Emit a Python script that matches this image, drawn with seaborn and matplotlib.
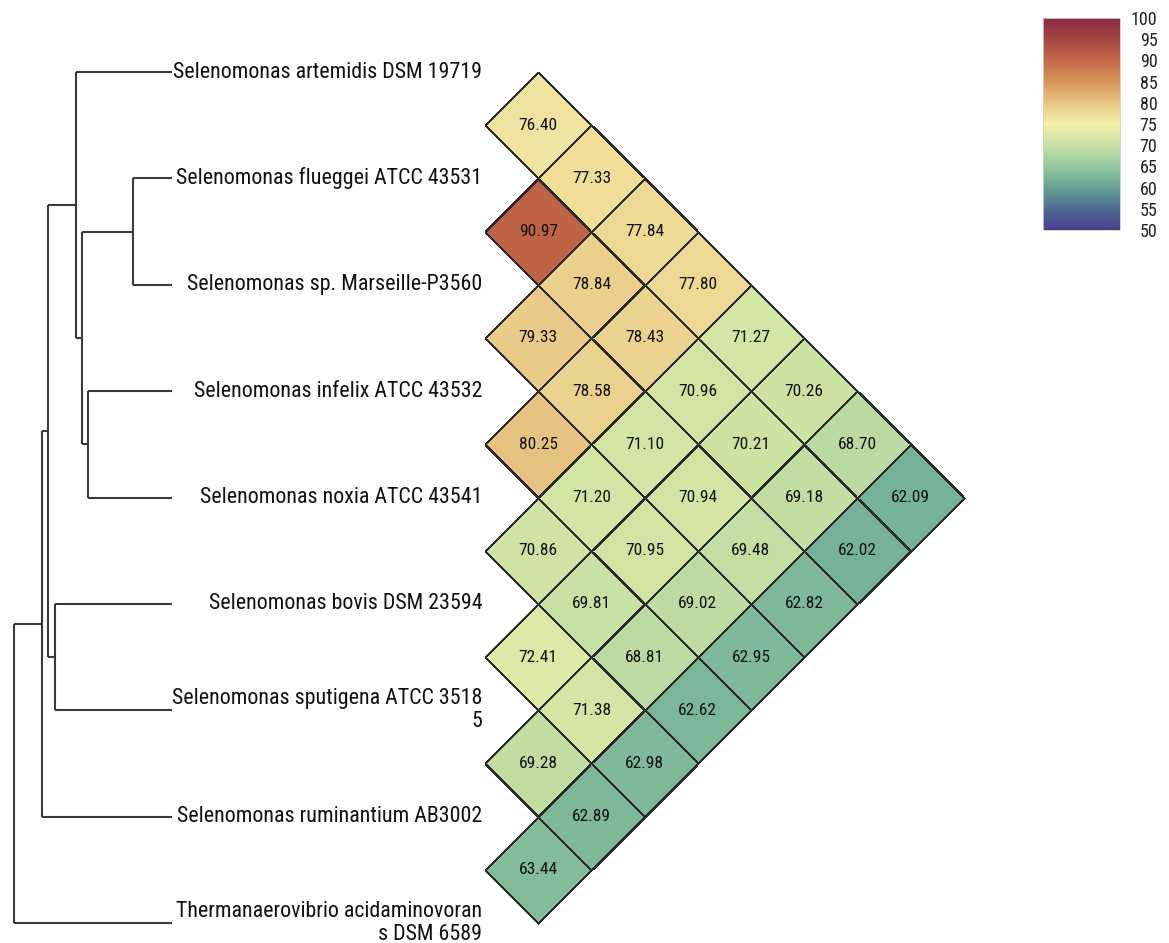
import numpy as np
import pandas as pd
import matplotlib
matplotlib.use('Agg')
import matplotlib.pyplot as plt
from matplotlib.transforms import Affine2D
import seaborn as sns

# taxa, top to bottom (same order as the dendrogram leaves)
taxa = [
    'Selenomonas artemidis DSM 19719',
    'Selenomonas flueggei ATCC 43531',
    'Selenomonas sp. Marseille-P3560',
    'Selenomonas infelix ATCC 43532',
    'Selenomonas noxia ATCC 43541',
    'Selenomonas bovis DSM 23594',
    'Selenomonas sputigena ATCC 3518\n5',
    'Selenomonas ruminantium AB3002',
    'Thermanaerovibrio acidaminovoran\ns DSM 6589',
]

# pairwise identity values, row i holds pairs (i, j) for j > i
row0 = [76.40, 77.33, 77.84, 77.80, 71.27, 70.26, 68.70, 62.09]
row1 = [90.97, 78.84, 78.43, 70.96, 70.21, 69.18, 62.02]
row2 = [79.33, 78.58, 71.10, 70.94, 69.48, 62.82]
row3 = [80.25, 71.20, 70.95, 69.02, 62.95]
row4 = [70.86, 69.81, 68.81, 62.62]
row5 = [72.41, 71.38, 62.98]
row6 = [69.28, 62.89]
row7 = [63.44]
rows = [row0, row1, row2, row3, row4, row5, row6, row7]

# dendrogram merges (child a, child b) and merge heights (root = 1)
merge_a = [1, 3, 9, 0, 5, 12, 14, 15]
merge_b = [2, 4, 10, 11, 6, 13, 7, 8]
merge_h = [0.247, 0.532, 0.570, 0.608, 0.741, 0.785, 0.823, 1.0]

cbar_ticks = [50, 55, 60, 65, 70, 75, 80, 85, 90, 95, 100]

n = len(taxa)
# 8x8 matrix: row i = taxon i (0..7), col c = taxon c+1 (1..8)
mat = np.full((n - 1, n - 1), np.nan)
for i, r in enumerate(rows):
    for k, v in enumerate(r):
        mat[i, i + k] = v
df = pd.DataFrame(mat, index=taxa[:-1], columns=taxa[1:])
mask = np.tril(np.ones((n - 1, n - 1), dtype=bool), k=-1)

sns.set_style('white')
plt.rcParams['font.family'] = ['Roboto Condensed', 'Roboto', 'DejaVu Sans']

cmap = sns.blend_palette(['#4a3e8c', '#4f6c96', '#64a393', '#93c99e', '#c9e1a3',
                          '#f4f0aa', '#e8c583', '#d99558', '#c4694a', '#a4463f',
                          '#8a2a45'], as_cmap=True)

W, H = 1169, 943
fig = plt.figure(figsize=(W / 100, H / 100), dpi=100)

# pixel layout
unit = 106.375          # px between leaves
y0_px = 72              # px of first leaf
hm_left, hm_right = 485, 1000
tr_left, tr_right = 14, 172

ylim = ((H - y0_px) / unit, -y0_px / unit)

ax = fig.add_axes([hm_left / W, 0, (hm_right - hm_left) / W, 1])
cax = fig.add_axes([1043 / W, 1 - 230 / H, 77 / W, 212 / H])

sns.heatmap(df, mask=mask, ax=ax, cmap=cmap, vmin=50, vmax=100,
            annot=True, fmt='.2f', annot_kws={'fontsize': 12.5, 'color': '#111111'},
            linewidths=1.0, linecolor='#2b2b2b',
            cbar_ax=cax, cbar_kws={'ticks': cbar_ticks})

# rotate the heatmap 45 degrees: cell (row i, col j-1) -> diamond between leaves i and j
rot = Affine2D(np.array([[0.5, -0.5, 0.5], [0.5, 0.5, 0.0], [0, 0, 1]])) + ax.transData
ax.collections[0].set_transform(rot)
for t in ax.texts:
    t.set_transform(rot)

ax.set_xlim(0, (hm_right - hm_left) / unit)
ax.set_ylim(*ylim)
ax.set_xticks([])
ax.set_yticks(range(n))
ax.set_yticklabels(taxa, rotation=0, va='center', fontsize=15.8, color='#111111',
                   linespacing=1.1)
ax.tick_params(axis='y', length=0, pad=2)
ax.set_xlabel('')
ax.set_ylabel('')
for s in ax.spines.values():
    s.set_visible(False)

# colorbar
cbar = ax.collections[0].colorbar
cbar.ax.tick_params(length=0, labelsize=13, pad=27, colors='#222222')
for lab in cbar.ax.get_yticklabels():
    lab.set_horizontalalignment('right')
cbar.outline.set_linewidth(0.6)
cbar.outline.set_edgecolor('#d0d0d0')

# dendrogram
tax = fig.add_axes([tr_left / W, 0, (tr_right - tr_left) / W, 1])
node_y = list(range(n))
node_h = [0.0] * n
for a, b, h in zip(merge_a, merge_b, merge_h):
    ya, yb = node_y[a], node_y[b]
    kw = dict(color='#3a3a3a', lw=1.5, clip_on=False, solid_capstyle='butt')
    tax.plot([h, h], [ya, yb], **kw)
    tax.plot([node_h[a], h], [ya, ya], **kw)
    tax.plot([node_h[b], h], [yb, yb], **kw)
    node_y.append((ya + yb) / 2)
    node_h.append(h)
tax.set_xlim(1.0, 0.0)
tax.set_ylim(*ylim)
tax.axis('off')

fig.savefig('out.png', dpi=100)
